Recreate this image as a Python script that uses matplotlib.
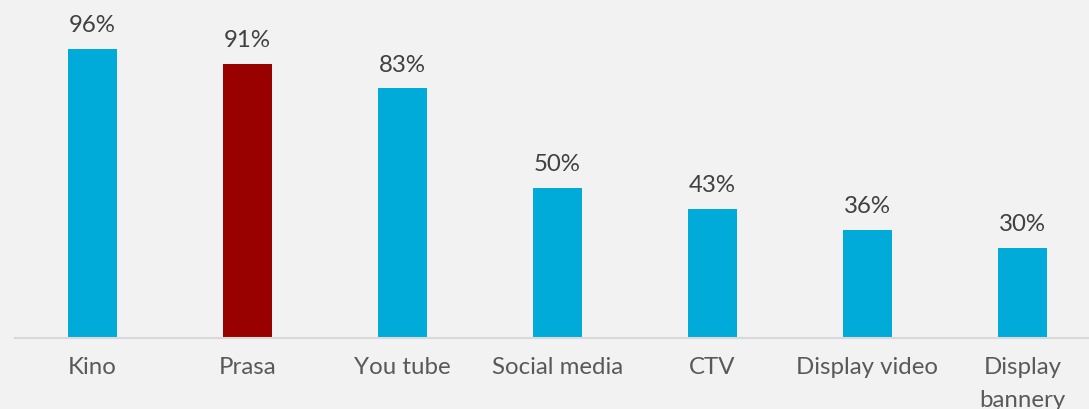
import matplotlib
matplotlib.use("Agg")
import matplotlib.pyplot as plt

categories = ["Kino", "Prasa", "You tube", "Social media", "CTV", "Display video", "Display\nbannery"]
values = [96, 91, 83, 50, 43, 36, 30]
colors = ["#00abda", "#990000", "#00abda", "#00abda", "#00abda", "#00abda", "#00abda"]

plt.rcParams['font.family'] = ['Lato', 'DejaVu Sans']

fig = plt.figure(figsize=(10.89, 4.09), dpi=100, facecolor="#f2f2f2")
# axes placed in pixel terms: baseline at y=338, first bar centre at x=92
ax = fig.add_axes([15 / 1089, 71 / 409, 1085 / 1089, 301 / 409])
ax.set_facecolor("#f2f2f2")

x = range(len(categories))
bars = ax.bar(x, values, width=0.32, color=colors)

for xi, v in zip(x, values):
    ax.annotate("{}%".format(v), (xi, v), xytext=(0, 12), textcoords="offset points",
                ha="center", va="baseline", fontsize=17.3, color="#404040")

ax.set_xlim(-0.5, 6.5)
ax.set_ylim(0, 100)
ax.set_xticks(list(x))
ax.set_xticklabels(categories, fontsize=17.3, color="#595959", linespacing=1.7)
ax.tick_params(axis="x", length=0, pad=14)
ax.set_yticks([])
for side in ["top", "right", "left"]:
    ax.spines[side].set_visible(False)
ax.spines["bottom"].set_color("#d9d9d9")
ax.spines["bottom"].set_linewidth(1.5)

fig.savefig("out.png", dpi=100, facecolor=fig.get_facecolor())
